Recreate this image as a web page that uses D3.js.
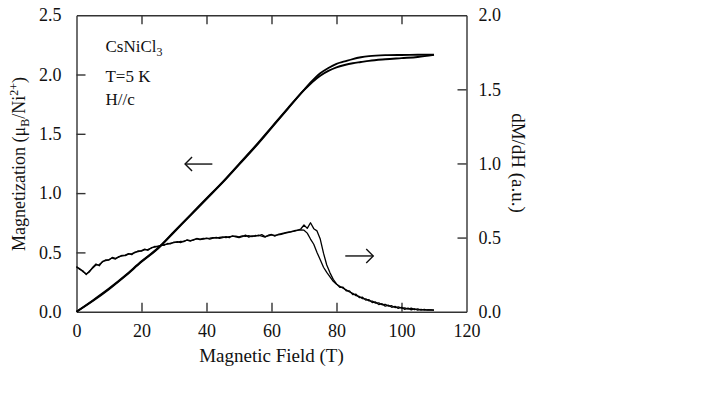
<!DOCTYPE html>
<html>
<head>
<meta charset="utf-8">
<script src="https://cdn.jsdelivr.net/npm/d3@7"></script>
<style>
  body { margin: 0; background: #fff; }
  svg { display: block; }
  text { font-family: "Liberation Serif", "DejaVu Serif", serif; fill: #111; }
</style>
</head>
<body>
<svg id="chart" width="725" height="397"></svg>
<script>
// ---- Data ----
const xTicks = [0, 20, 40, 60, 80, 100, 120];
const yLeftTicks = [0.0, 0.5, 1.0, 1.5, 2.0, 2.5];
const yRightTicks = [0.0, 0.5, 1.0, 1.5, 2.0];

// Magnetization, two sweeps
const fieldM = [0, 5, 10, 15, 20, 25, 30, 35, 40, 45, 50, 55, 60, 65, 70, 72.5, 75, 77.5, 80, 82.5, 85, 87.5, 90, 95, 100, 105, 110];
const magUp = [0, 0.09, 0.19, 0.30, 0.42, 0.53, 0.67, 0.81, 0.95, 1.09, 1.24, 1.39, 1.55, 1.71, 1.87, 1.945, 2.01, 2.055, 2.09, 2.11, 2.13, 2.145, 2.155, 2.163, 2.165, 2.166, 2.168];
const magDown = [0, 0.095, 0.195, 0.305, 0.425, 0.535, 0.675, 0.815, 0.955, 1.095, 1.245, 1.395, 1.555, 1.715, 1.868, 1.935, 1.99, 2.03, 2.06, 2.08, 2.095, 2.105, 2.115, 2.128, 2.138, 2.148, 2.165];

// dM/dH, two sweeps, 1 T steps from 0 to 110 T
const fieldD = d3.range(0, 111, 1);
const dmdhA = [
  0.300, 0.290, 0.270, 0.255, 0.268, 0.300, 0.322, 0.310, 0.340, 0.345,
  0.352, 0.362, 0.355, 0.372, 0.376, 0.382, 0.392, 0.385, 0.402, 0.406,
  0.412, 0.422, 0.414, 0.432, 0.436, 0.442, 0.446, 0.452, 0.456, 0.462,
  0.466, 0.472, 0.466, 0.476, 0.482, 0.476, 0.486, 0.492, 0.486, 0.490,
  0.497, 0.490, 0.496, 0.502, 0.494, 0.500, 0.507, 0.499, 0.512, 0.504,
  0.499, 0.506, 0.517, 0.503, 0.511, 0.509, 0.517, 0.509, 0.503, 0.516,
  0.521, 0.510, 0.521, 0.526, 0.531, 0.536, 0.540, 0.546, 0.550, 0.552,
  0.550, 0.530, 0.490, 0.455, 0.400, 0.350, 0.300, 0.265, 0.235, 0.205,
  0.185, 0.172, 0.158, 0.147, 0.133, 0.124, 0.108, 0.103, 0.088, 0.087,
  0.073, 0.072, 0.058, 0.060, 0.047, 0.050, 0.038, 0.040, 0.028, 0.033,
  0.024, 0.026, 0.017, 0.024, 0.014, 0.019, 0.011, 0.016, 0.010, 0.012, 0.010
];
const dmdhB = [
  0.305, 0.285, 0.275, 0.250, 0.275, 0.295, 0.315, 0.318, 0.335, 0.350,
  0.348, 0.366, 0.360, 0.368, 0.380, 0.378, 0.388, 0.392, 0.398, 0.410,
  0.408, 0.418, 0.420, 0.428, 0.440, 0.438, 0.450, 0.448, 0.460, 0.458,
  0.470, 0.468, 0.474, 0.472, 0.484, 0.480, 0.483, 0.494, 0.490, 0.494,
  0.493, 0.496, 0.500, 0.497, 0.501, 0.504, 0.499, 0.506, 0.508, 0.509,
  0.504, 0.512, 0.508, 0.513, 0.506, 0.514, 0.512, 0.520, 0.507, 0.512,
  0.518, 0.515, 0.518, 0.522, 0.528, 0.533, 0.538, 0.543, 0.548, 0.558,
  0.585, 0.562, 0.600, 0.560, 0.545, 0.490, 0.395, 0.315, 0.262, 0.218,
  0.188, 0.165, 0.166, 0.140, 0.141, 0.115, 0.118, 0.095, 0.098, 0.078,
  0.081, 0.062, 0.066, 0.048, 0.054, 0.037, 0.044, 0.030, 0.036, 0.022,
  0.030, 0.016, 0.024, 0.012, 0.020, 0.011, 0.015, 0.010, 0.013, 0.012, 0.010
];

// ---- Layout ----
const svg = d3.select("#chart");
const W = 725, H = 397;
const m = { left: 76.5, right: 466.5, top: 15.2, bottom: 311.7 };

const x = d3.scaleLinear().domain([0, 120]).range([m.left, m.right]);
const yL = d3.scaleLinear().domain([0, 2.5]).range([m.bottom, m.top]);
const yR = d3.scaleLinear().domain([0, 2.0]).range([m.bottom, m.top]);

svg.append("rect").attr("width", W).attr("height", H).attr("fill", "#fff");

const frameColor = "#333";
const tickLen = 9;

// Axes (ticks pointing inward)
const axB = svg.append("g").attr("transform", `translate(0,${m.bottom})`)
  .call(d3.axisBottom(x).tickValues(xTicks).tickSizeInner(-tickLen).tickSizeOuter(0).tickPadding(13).tickFormat(d3.format("d")));
const axT = svg.append("g").attr("transform", `translate(0,${m.top})`)
  .call(d3.axisTop(x).tickValues(xTicks).tickSizeInner(-tickLen).tickSizeOuter(0).tickFormat(""));
const axL = svg.append("g").attr("transform", `translate(${m.left},0)`)
  .call(d3.axisLeft(yL).tickValues(yLeftTicks).tickSizeInner(-tickLen).tickSizeOuter(0).tickPadding(15).tickFormat(d3.format(".1f")));
const axR = svg.append("g").attr("transform", `translate(${m.right},0)`)
  .call(d3.axisRight(yR).tickValues(yRightTicks).tickSizeInner(-tickLen).tickSizeOuter(0).tickPadding(12).tickFormat(d3.format(".1f")));

[axB, axT, axL, axR].forEach(g => {
  g.select(".domain").attr("stroke", frameColor).attr("stroke-width", 1.4);
  g.selectAll(".tick line").attr("stroke", frameColor).attr("stroke-width", 1.4);
  g.selectAll(".tick text").attr("font-family", "Liberation Serif").attr("font-size", 18).attr("fill", "#111");
});
// hide end ticks that coincide with the frame
axT.selectAll(".tick").filter(d => d === 0 || d === 120).select("line").remove();
axB.selectAll(".tick").filter(d => d === 0 || d === 120).select("line").remove();
axL.selectAll(".tick").filter(d => d === 0 || d === 2.5).select("line").remove();
axR.selectAll(".tick").filter(d => d === 0 || d === 2.0).select("line").remove();

// ---- Curves ----
const lineM = d3.line().x((d, i) => x(fieldM[i])).y(d => yL(d)).curve(d3.curveMonotoneX);
const lineD = d3.line().x((d, i) => x(fieldD[i])).y(d => yR(d)).curve(d3.curveLinear);

svg.append("path").datum(magDown).attr("d", lineM).attr("fill", "none").attr("stroke", "#000").attr("stroke-width", 1.9);
svg.append("path").datum(magUp).attr("d", lineM).attr("fill", "none").attr("stroke", "#000").attr("stroke-width", 1.9);

svg.append("path").datum(dmdhA).attr("d", lineD).attr("fill", "none").attr("stroke", "#000").attr("stroke-width", 1.3).attr("stroke-linejoin", "round");
svg.append("path").datum(dmdhB).attr("d", lineD).attr("fill", "none").attr("stroke", "#000").attr("stroke-width", 1.3).attr("stroke-linejoin", "round");

// ---- Arrows ----
function arrow(x1, x2, y, dir) {
  const g = svg.append("g").attr("stroke", "#111").attr("stroke-width", 1.4).attr("fill", "none");
  g.append("line").attr("x1", x1).attr("x2", x2).attr("y1", y).attr("y2", y);
  const tip = dir < 0 ? x1 : x2;
  const s = dir < 0 ? 1 : -1;
  g.append("path").attr("d", `M${tip + s * 7},${y - 7} L${tip},${y} L${tip + s * 7},${y + 7}`);
}
arrow(x(33.4), x(41.8), yL(1.245), -1);
arrow(x(82.7), x(91.3), yR(0.376), 1);

// ---- Annotations ----
const ann = svg.append("g").attr("font-size", 17);
const t1 = ann.append("text").attr("x", x(8.9)).attr("y", yL(2.19));
t1.append("tspan").text("CsNiCl");
t1.append("tspan").attr("font-size", 12).attr("dy", 4).text("3");
ann.append("text").attr("x", x(8.9)).attr("y", yL(1.94)).text("T=5 K");
ann.append("text").attr("x", x(8.9)).attr("y", yL(1.74)).text("H//c");

// ---- Axis titles ----
svg.append("text").attr("x", (m.left + m.right) / 2).attr("y", 362)
  .attr("text-anchor", "middle").attr("font-size", 19).text("Magnetic Field (T)");

const yt = svg.append("text").attr("transform", `translate(25,164) rotate(-90)`)
  .attr("text-anchor", "middle").attr("font-size", 18);
yt.append("tspan").text("Magnetization (\u03BC");
yt.append("tspan").attr("font-size", 12).attr("dy", 4).text("B");
yt.append("tspan").attr("dy", -4).text("/Ni");
yt.append("tspan").attr("font-size", 12).attr("dy", -7).text("2+");
yt.append("tspan").attr("dy", 7).text(")");

svg.append("text").attr("transform", `translate(512,163) rotate(90)`)
  .attr("text-anchor", "middle").attr("font-size", 19).text("dM/dH (a.u.)");
</script>
</body>
</html>
